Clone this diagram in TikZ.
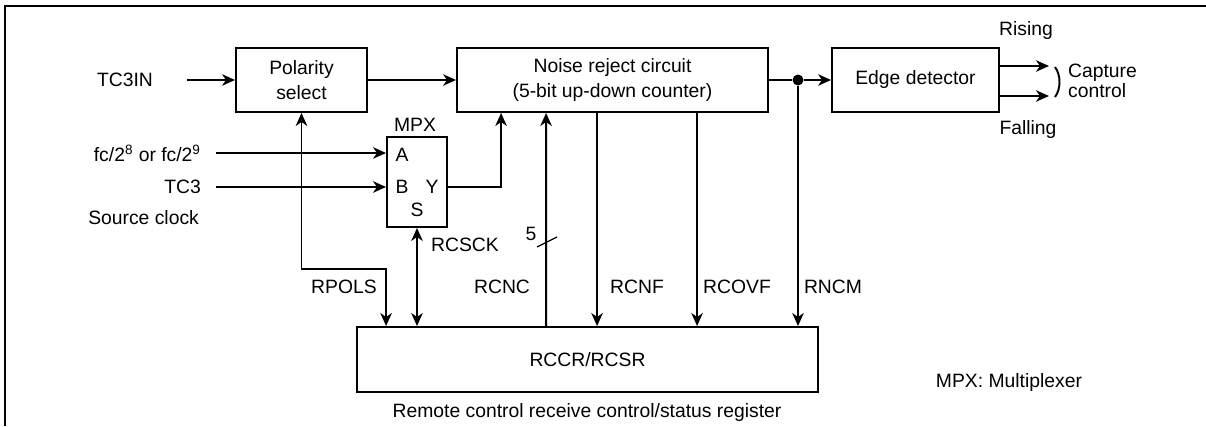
\documentclass[tikz,border=0pt]{standalone}
\usepackage{fontspec}
\setmainfont{Liberation Sans}
\usetikzlibrary{arrows.meta, positioning, calc}
\definecolor{inkblack}{RGB}{0, 0, 0}
\tikzset{
  >=Stealth,
  sigarrow/.style={-{Stealth[length=2.6mm, width=2.3mm, inset=0.8mm]}, line width=1.1pt, inkblack},
  sigboth/.style={{Stealth[length=2.6mm, width=2.3mm, inset=0.8mm]}-{Stealth[length=2.6mm, width=2.3mm, inset=0.8mm]}, line width=1.1pt, inkblack},
  sigline/.style={line width=1.1pt, inkblack}
}

\begin{document}
\begin{tikzpicture}[
    x=0.02cm, y=-0.02cm,
    block/.style={rectangle, draw=inkblack, line width=1.1pt, minimum height=1.28cm, align=center, font=\fontsize{11}{14}\selectfont},
    lbl/.style={font=\fontsize{11}{12}\selectfont, inner sep=1pt},
    junction/.style={circle, fill=inkblack, inner sep=0pt, minimum size=2.2mm}
]
    \useasboundingbox (0,0) rectangle (1206,426);
    \draw[line width=1.2pt] (5,426) |- (1206,6);

    % blocks
    \node[block, minimum width=2.62cm] (pol) at (301.5,80) {Polarity\\select};
    \node[block, minimum width=6.22cm] (noise) at (612.5,80) {Noise reject circuit\\(5-bit up-down counter)};
    \node[block, minimum width=3.34cm] (edge) at (915.5,80) {Edge detector};
    \node[block, minimum width=1.2cm, minimum height=1.8cm] (mpx) at (417,182) {};
    \node[block, minimum width=9.22cm, minimum height=1.3cm] (rccr) at (587.5,359.5) {RCCR/RCSR};
    \node[junction] (jn) at (798,80) {};

    % multiplexer pins
    \node[lbl] (mpxname) at (415,125) {MPX};
    \node[lbl] (pa) at (402,155) {A};
    \node[lbl] (pb) at (402,187) {B};
    \node[lbl] (py) at (432,187) {Y};
    \node[lbl] (ps) at (417,210) {S};

    % inputs
    \node[lbl] (tc3in) at (125,80) {TC3IN};
    \node[lbl, anchor=east] (fcin) at (203,153) {fc/2\textsuperscript{8} or fc/2\textsuperscript{9}};
    \node[lbl, anchor=east] (tc3) at (203,187) {TC3};
    \node[lbl, anchor=east] (srcclk) at (201,218) {Source clock};

    \draw[sigarrow] ($(tc3in.east)+(32,0)$) -- (pol.west);
    \draw[sigarrow] ($(fcin.east)+(13,0)$) -- (fcin -| mpx.west);
    \draw[sigarrow] ($(tc3.east)+(13,0)$) -- (tc3 -| mpx.west);
    \draw[sigarrow] (pol) -- (noise);
    \draw[sigarrow] (py -| mpx.east) -| ($(noise.south west)+(45,0)$);
    \draw[sigline] (noise) -- (jn);
    \draw[sigarrow] (jn) -- (edge);

    % register lines
    \draw[sigboth] (pol.south) -- ++(0,156) -| ($(rccr.north west)+(30,0)$);
    \draw[sigboth] (mpx.south) -- (mpx.south |- rccr.north);
    \draw[sigarrow] ($(rccr.north west)+(190,0)$) -- ($(noise.south west)+(90,0)$);
    \draw[sigarrow] ($(noise.south west)+(141,0)$) coordinate (nf) -- (nf |- rccr.north);
    \draw[sigarrow] ($(noise.south west)+(241,0)$) coordinate (ovf) -- (ovf |- rccr.north);
    \draw[sigarrow] (jn) -- (jn |- rccr.north);
    \draw[line width=0.7pt] (537,247) -- (557,237);

    \node[lbl] (busw) at (531,234) {5};
    \node[lbl] (rpols) at (344,287) {RPOLS};
    \node[lbl] (rcsck) at (465,245) {RCSCK};
    \node[lbl] (rcnc) at (502,287) {RCNC};
    \node[lbl] (rcnf) at (637,287) {RCNF};
    \node[lbl] (rcovf) at (737,287) {RCOVF};
    \node[lbl] (rncm) at (833,287) {RNCM};

    % outputs
    \draw[sigarrow] ($(edge.east)+(0,-14)$) -- ++(49,0);
    \draw[sigarrow] ($(edge.east)+(0,16)$) -- ++(49,0);
    \draw[sigline] (1055,67) .. controls (1061,75) and (1061,89) .. (1055,97);
    \node[lbl] (rising) at (1026,31) {Rising};
    \node[lbl] (falling) at (1028,130) {Falling};
    \node[lbl, anchor=west, align=left, font=\fontsize{11}{11}\selectfont] (capt) at (1066,81) {Capture\\control};

    \node[lbl] (regname) at (587,412) {Remote control receive control/status register};
    \node[lbl] (mpxnote) at (1009,382) {MPX: Multiplexer};
\end{tikzpicture}
\end{document}
